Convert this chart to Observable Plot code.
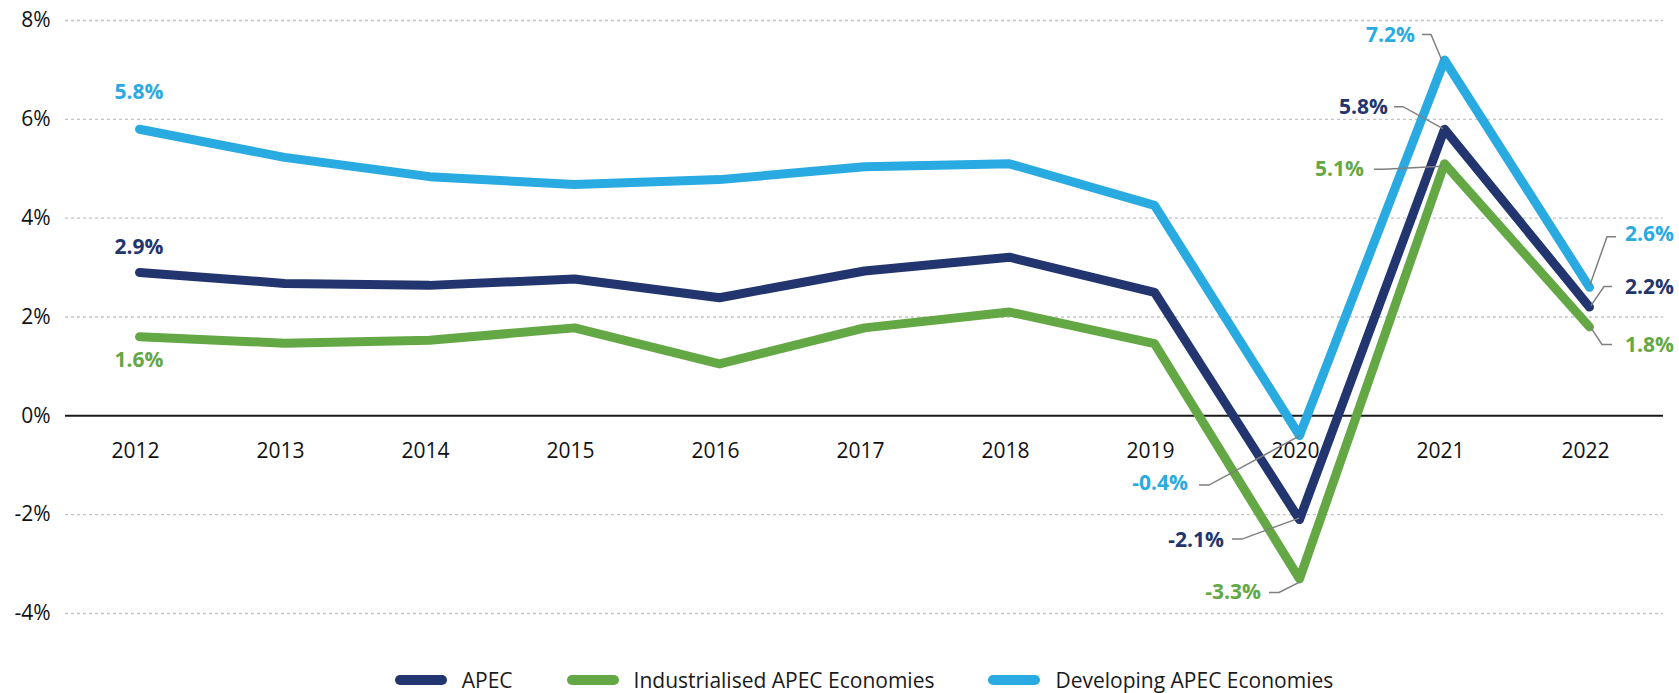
<!DOCTYPE html>
<html>
<head>
<meta charset="utf-8">
<script src="https://cdn.jsdelivr.net/npm/d3@7"></script>
<script src="https://cdn.jsdelivr.net/npm/@observablehq/plot@0.6"></script>
<style>
  html, body { margin: 0; padding: 0; background: #fff; }
  #chart svg { display: block; }
  #legend { display: flex; justify-content: center; align-items: center; box-sizing: border-box;
            width: 1679px; padding-left: 65px; padding-right: 16px; height: 26px; margin-top: 17px;
            gap: 54px; font-family: 'Open Sans', sans-serif; font-size: 21px; color: #1a1a1a; }
  .item { display: flex; align-items: center; gap: 15px; white-space: nowrap; }
  .sw { width: 52px; height: 10px; border-radius: 5px; display: inline-block; }
</style>
</head>
<body>
<div id="chart"></div>
<div id="legend"></div>
<script>
// ---- Data ----
const years = [2012, 2013, 2014, 2015, 2016, 2017, 2018, 2019, 2020, 2021, 2022];
const seriesNames = ["APEC", "Industrialised APEC Economies", "Developing APEC Economies"];
const apec = [2.9, 2.68, 2.64, 2.77, 2.39, 2.93, 3.21, 2.50, -2.1, 5.8, 2.2];
const industrialised = [1.6, 1.47, 1.53, 1.78, 1.05, 1.78, 2.10, 1.46, -3.3, 5.1, 1.8];
const developing = [5.8, 5.23, 4.84, 4.68, 4.78, 5.04, 5.10, 4.26, -0.4, 7.2, 2.6];
const yTicks = [-4, -2, 0, 2, 4, 6, 8];
const labelledYears = [2012, 2020, 2021, 2022];

// ---- Styles ----
const colors = ["#22356f", "#63a844", "#29abe2"];

// label layout (pixel offsets relative to the data point)
const layout = {
  "Developing APEC Economies": {
    2012: {anchor: "middle", lx: 0, ly: -37},
    2020: {anchor: "end", lx: -111, ly: 48, path: [[-100, 50], [-90, 50], [0, 1]]},
    2021: {anchor: "end", lx: -29, ly: -25, path: [[-22, -25], [-13, -25], [-2, 1]]},
    2022: {anchor: "start", lx: 36, ly: -53, path: [[27, -50], [18, -50], [1, -2]]}
  },
  "APEC": {
    2012: {anchor: "middle", lx: 0, ly: -25},
    2020: {anchor: "end", lx: -75, ly: 21, path: [[-67, 20], [-57, 20], [0, -1]]},
    2021: {anchor: "end", lx: -56, ly: -22, path: [[-50, -22], [-41, -22], [-1, 0]]},
    2022: {anchor: "start", lx: 36, ly: -20, path: [[23, -20], [15, -20], [2, -1]]}
  },
  "Industrialised APEC Economies": {
    2012: {anchor: "middle", lx: 0, ly: 23},
    2020: {anchor: "end", lx: -38, ly: 13, path: [[-30, 14], [-20, 14], [0, 4]]},
    2021: {anchor: "end", lx: -80, ly: 5, path: [[-70, 6], [-60, 6], [-2, 3]]},
    2022: {anchor: "start", lx: 36, ly: 18, path: [[23, 18], [13, 18], [1, 0]]}
  }
};

// ---- Table ----
const valuesBySeries = {[seriesNames[0]]: apec, [seriesNames[1]]: industrialised, [seriesNames[2]]: developing};
const table = seriesNames.flatMap(s => years.map((yr, i) => ({series: s, year: yr, value: valuesBySeries[s][i]})));
const labels = table.filter(d => labelledYears.includes(d.year));

function annotations(index, scales) {
  const x = scales.x, y = scales.y;
  const g = d3.create("svg:g");
  for (const d of labels) {
    const L = layout[d.series][d.year];
    const px = x(d.year), py = y(d.value);
    if (L.path) {
      g.append("path")
        .attr("d", d3.line()(L.path.map(([dx, dy]) => [px + dx, py + dy])))
        .attr("fill", "none").attr("stroke", "#7f7f7f").attr("stroke-width", 1.5);
    }
  }
  for (const d of labels) {
    const L = layout[d.series][d.year];
    const px = x(d.year), py = y(d.value);
    g.append("text")
      .attr("x", px + L.lx).attr("y", py + L.ly).attr("dy", "0.35em")
      .attr("text-anchor", L.anchor)
      .attr("fill", colors[seriesNames.indexOf(d.series)])
      .attr("font-weight", 700).attr("font-size", 21)
      .attr("font-family", "'Open Sans', sans-serif")
      .text(d.value.toFixed(1) + "%");
  }
  return g.node();
}

const chart = Plot.plot({
  width: 1679,
  height: 650,
  marginTop: 20,
  marginBottom: 37,
  marginLeft: 65,
  marginRight: 16,
  style: {fontFamily: "'Open Sans', sans-serif", fontSize: "21px", color: "#111", background: "#fff", overflow: "visible"},
  x: {type: "point", domain: years, padding: 0.5, axis: null},
  y: {domain: [-4, 8], axis: null},
  color: {domain: seriesNames, range: colors},
  marks: [
    Plot.gridY(yTicks.filter(t => t !== 0), {stroke: "#c4c4c4", strokeOpacity: 1, strokeWidth: 1.3, strokeDasharray: "3 3"}),
    Plot.axisY(yTicks, {tickSize: 0, tickPadding: 15, tickFormat: d => d + "%", label: null, fontSize: 21}),
    Plot.ruleY([0], {stroke: "#1a1a1a", strokeWidth: 2}),
    Plot.line(table, {x: "year", y: "value", z: "series", stroke: "series", strokeWidth: 9,
                      strokeLinecap: "round", strokeLinejoin: "round"}),
    Plot.text(years, {x: d => d, y: 0, dy: 35, dx: -4, text: d => String(d), fontSize: 21, fill: "#111"}),
    annotations
  ]
});
document.getElementById("chart").appendChild(chart);

// ---- Legend ----
const legend = d3.select("#legend");
seriesNames.forEach((s, i) => {
  const item = legend.append("div").attr("class", "item");
  item.append("span").attr("class", "sw").style("background", colors[i]);
  item.append("span").text(s);
});
</script>
</body>
</html>
